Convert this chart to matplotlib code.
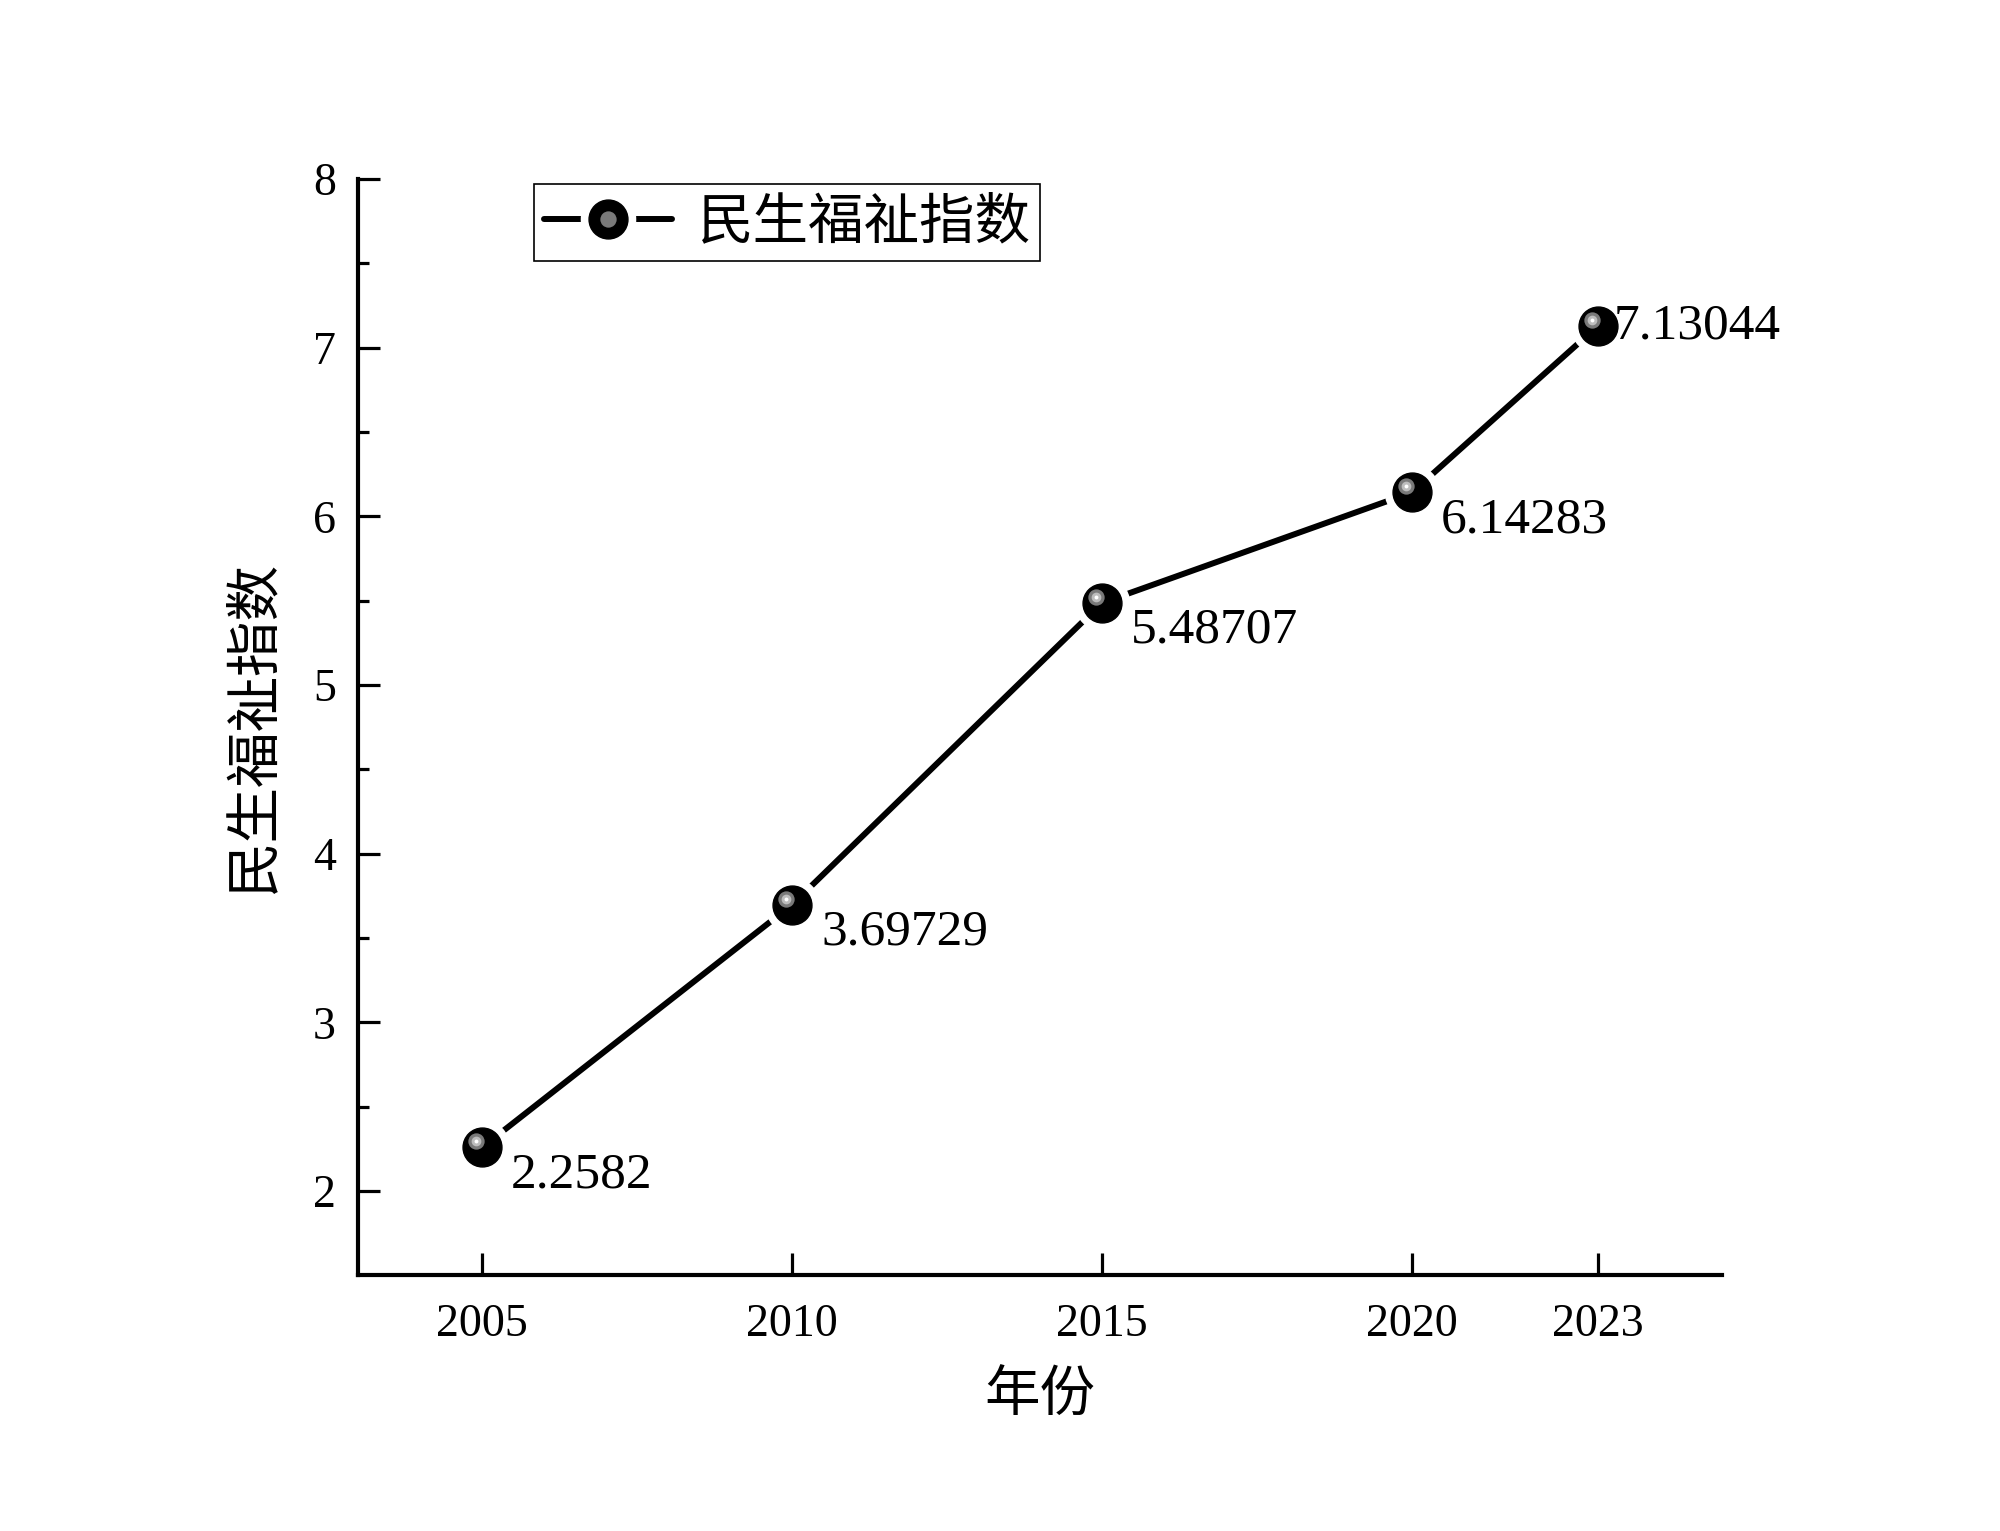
import matplotlib
matplotlib.use("Agg")
import matplotlib.pyplot as plt
from matplotlib.transforms import offset_copy
from matplotlib.legend_handler import HandlerTuple

years = [2005, 2010, 2015, 2020, 2023]
values = [2.2582, 3.69729, 5.48707, 6.14283, 7.13044]
labels = ["2.2582", "3.69729", "5.48707", "6.14283", "7.13044"]
series_name = "民生福祉指数"
xlabel = "年份"
ylabel = "民生福祉指数"
yticks = [2, 3, 4, 5, 6, 7, 8]

serif = ["Liberation Serif", "DejaVu Serif"]
cjk = ["Noto Sans CJK SC", "DejaVu Sans"]

fig = plt.figure(figsize=(20, 15.31), dpi=100)
ax = fig.add_axes([0.179, 0.167, 0.682, 0.716])

ms = 28
line, = ax.plot(years, values, color="black", lw=4.3, zorder=2, solid_capstyle="round")
gap, = ax.plot(years, values, ls="none", marker="o", ms=ms + 11, mfc="white", mec="white", zorder=3)
ball, = ax.plot(years, values, ls="none", marker="o", ms=ms, mfc="black", mec="black", zorder=4)
hl1, = ax.plot(years, values, ls="none", marker="o", ms=ms * 0.42, mfc="#7a7a7a", mec="#7a7a7a", mew=0,
               zorder=5, transform=offset_copy(ax.transData, fig=fig, x=-4.5, y=4.5, units="points"))
hl2, = ax.plot(years, values, ls="none", marker="o", ms=ms * 0.25, mfc="#bdbdbd", mec="#bdbdbd", mew=0,
               zorder=6, transform=offset_copy(ax.transData, fig=fig, x=-4.5, y=4.5, units="points"))
hl3, = ax.plot(years, values, ls="none", marker="o", ms=ms * 0.1, mfc="white", mec="white", mew=0,
               zorder=7, transform=offset_copy(ax.transData, fig=fig, x=-4.5, y=4.5, units="points"))

for i, (x, y, t) in enumerate(zip(years, values, labels)):
    if i == len(years) - 1:
        ax.annotate(t, (x, y), xytext=(11, 0), textcoords="offset points",
                    ha="left", va="center", fontsize=37, family=serif, zorder=8)
    else:
        ax.annotate(t, (x, y), xytext=(21, -20), textcoords="offset points",
                    ha="left", va="center", fontsize=37, family=serif, zorder=8)

ax.set_xlim(2003, 2025)
ax.set_ylim(1.5, 8)
ax.set_xticks(years)
ax.set_yticks(yticks)
ax.set_yticks([2.5, 3.5, 4.5, 5.5, 6.5, 7.5], minor=True)

for s in ["top", "right"]:
    ax.spines[s].set_visible(False)
for s in ["left", "bottom"]:
    ax.spines[s].set_linewidth(3.0)
ax.spines["left"].set_bounds(1.5, 8)

ax.tick_params(axis="both", which="major", direction="in", length=16, width=2.3)
ax.tick_params(axis="y", which="minor", direction="in", length=8, width=2.3)
ax.tick_params(axis="x", which="minor", length=0)
ax.tick_params(axis="x", pad=20)
ax.tick_params(axis="y", pad=16)

for lab in ax.get_xticklabels() + ax.get_yticklabels():
    lab.set_fontfamily(serif)
    lab.set_fontsize(33)

ax.set_xlabel(xlabel, fontsize=40, family=cjk, labelpad=16)
ax.set_ylabel(ylabel, fontsize=40, family=cjk, labelpad=22)

leg = ax.legend([(line, gap, ball, hl1)], [series_name], handler_map={tuple: HandlerTuple(ndivide=1)},
                loc="upper left", bbox_to_anchor=(0.121, 1.006), fancybox=False, frameon=True,
                edgecolor="black", framealpha=1, prop={"family": cjk, "size": 40},
                handlelength=2.3, borderpad=0.18, handletextpad=0.45, borderaxespad=0.2)
leg.get_frame().set_linewidth(1.2)

fig.savefig("out.png", dpi=100, facecolor="white")
